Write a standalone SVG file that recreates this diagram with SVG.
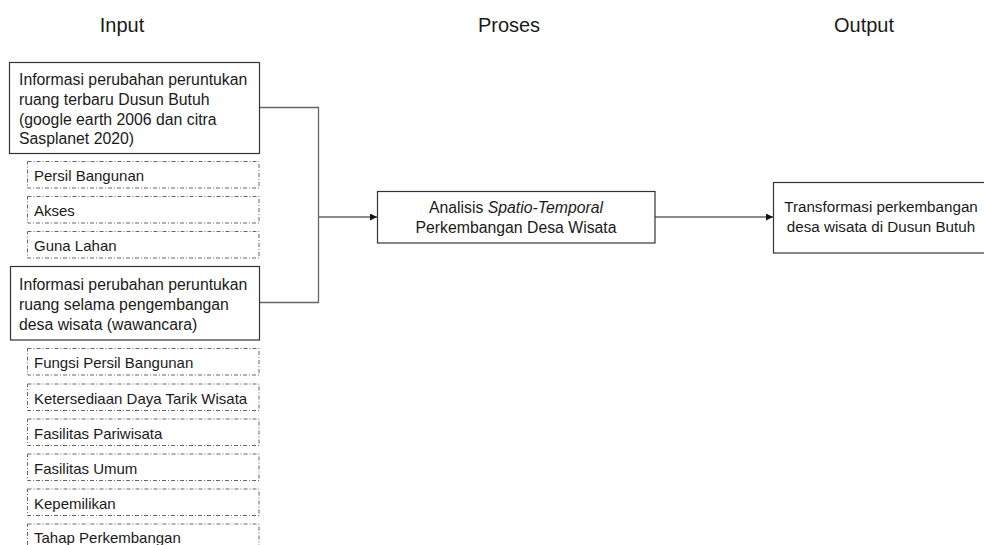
<svg xmlns="http://www.w3.org/2000/svg" width="984" height="545" viewBox="0 0 984 545">
<defs>
<marker id="arr" viewBox="0 0 10 10" refX="10" refY="5" markerWidth="8" markerHeight="7" markerUnits="userSpaceOnUse" orient="auto">
<path d="M0,0 L10,5 L0,10 z" fill="#111"/>
</marker>
<style>
text{font-family:"Liberation Sans",Arial,sans-serif;fill:#1a1a1a}
.hd{font-size:20px;text-anchor:middle}
.bx{fill:#fff;stroke:#333;stroke-width:1.2}
.it{fill:#fff;stroke:#666;stroke-width:1;stroke-dasharray:4 2 1 2}
.t{font-size:15.8px}
.o{font-size:15.2px}
.i{font-size:15px}
.c{text-anchor:middle}
.con{fill:none;stroke:#666;stroke-width:1.3}
</style>
</defs>
<rect width="984" height="545" fill="#fff"/>
<g id="headers">
<text class="hd" x="122" y="32">Input</text>
<text class="hd" x="509" y="32">Proses</text>
<text class="hd" x="864" y="32">Output</text>
</g>
<g id="connectors">
<polyline class="con" points="259,107.5 318.5,107.5 318.5,302.5 259,302.5"/>
<line class="con" x1="318.5" y1="217" x2="377" y2="217" marker-end="url(#arr)"/>
<line class="con" x1="655" y1="217" x2="773" y2="217" marker-end="url(#arr)"/>
</g>
<g id="input1">
<rect class="bx" x="9.5" y="62.5" width="250" height="91"/>
<text class="t" x="19" y="85">Informasi perubahan peruntukan</text>
<text class="t" x="19" y="105">ruang terbaru Dusun Butuh</text>
<text class="t" x="19" y="124.5">(google earth 2006 dan citra</text>
<text class="t" x="19" y="144">Sasplanet 2020)</text>
</g>
<g id="item-persil">
<rect class="it" x="27.5" y="161.5" width="231.5" height="26.5"/>
<text class="i" x="34" y="181">Persil Bangunan</text>
</g>
<g id="item-akses">
<rect class="it" x="27.5" y="196.5" width="231.5" height="26.5"/>
<text class="i" x="34" y="216">Akses</text>
</g>
<g id="item-guna">
<rect class="it" x="27.5" y="231.5" width="231.5" height="26.5"/>
<text class="i" x="34" y="251">Guna Lahan</text>
</g>
<g id="input2">
<rect class="bx" x="10.5" y="266.5" width="249" height="73.5"/>
<text class="t" x="19" y="290">Informasi perubahan peruntukan</text>
<text class="t" x="19" y="310">ruang selama pengembangan</text>
<text class="t" x="19" y="329.5">desa wisata (wawancara)</text>
</g>
<g id="item-fungsi">
<rect class="it" x="27.5" y="348.5" width="231.5" height="26.5"/>
<text class="i" x="34" y="368">Fungsi Persil Bangunan</text>
</g>
<g id="item-daya">
<rect class="it" x="27.5" y="384" width="231.5" height="26.5"/>
<text class="i" x="34" y="403.5">Ketersediaan Daya Tarik Wisata</text>
</g>
<g id="item-pariwisata">
<rect class="it" x="27.5" y="419" width="231.5" height="26.5"/>
<text class="i" x="34" y="438.5">Fasilitas Pariwisata</text>
</g>
<g id="item-umum">
<rect class="it" x="27.5" y="454" width="231.5" height="26.5"/>
<text class="i" x="34" y="473.5">Fasilitas Umum</text>
</g>
<g id="item-kepemilikan">
<rect class="it" x="27.5" y="489" width="231.5" height="26.5"/>
<text class="i" x="34" y="508.5">Kepemilikan</text>
</g>
<g id="item-tahap">
<rect class="it" x="27.5" y="524" width="231.5" height="26.5"/>
<text class="i" x="34" y="542.5">Tahap Perkembangan</text>
</g>
<g id="proses">
<rect class="bx" x="377.5" y="191.5" width="277.5" height="51.5"/>
<text class="t c" x="516" y="213">Analisis <tspan font-style="italic">Spatio-Temporal</tspan></text>
<text class="t c" x="516" y="233">Perkembangan Desa Wisata</text>
</g>
<g id="output">
<rect class="bx" x="773.5" y="182.5" width="222" height="70.5"/>
<text class="o c" x="881" y="212">Transformasi perkembangan</text>
<text class="o c" x="881" y="232">desa wisata di Dusun Butuh</text>
</g>
</svg>
